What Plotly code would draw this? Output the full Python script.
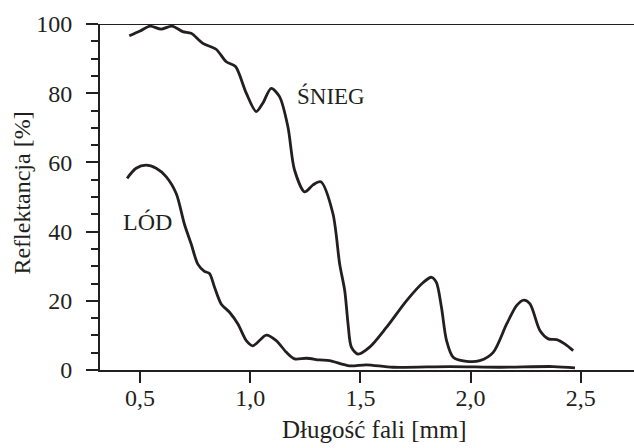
import plotly.graph_objects as go

# ---- data ----
snow_wl = [0.451, 0.50, 0.545, 0.595, 0.645, 0.694, 0.732, 0.785, 0.845, 0.891, 0.933, 0.982,
           1.027, 1.057, 1.095, 1.133, 1.171, 1.201, 1.247, 1.285, 1.32, 1.375, 1.406, 1.429,
           1.444, 1.459, 1.489, 1.542, 1.618, 1.709, 1.785, 1.823, 1.845, 1.868, 1.891, 1.921,
           1.982, 2.042, 2.103, 2.164, 2.209, 2.242, 2.27, 2.315, 2.353, 2.391, 2.429, 2.466]
snow_r = [96.6, 98.0, 99.4, 98.5, 99.4, 97.8, 97.3, 94.4, 92.7, 89.1, 87.7, 80.0,
          74.7, 77.1, 81.4, 79.0, 70.3, 57.8, 51.5, 53.5, 54.4, 45.3, 30.6, 22.9,
          13.3, 6.6, 4.6, 6.6, 12.3, 20.0, 25.3, 26.8, 25.3, 18.1, 8.5, 3.7,
          2.5, 2.7, 5.1, 13.3, 18.6, 20.2, 19.1, 11.4, 9.0, 8.8, 7.5, 5.6]

ice_wl = [0.441, 0.482, 0.527, 0.573, 0.618, 0.664, 0.701, 0.732, 0.762, 0.792, 0.815, 0.838,
          0.868, 0.906, 0.944, 0.982, 1.012, 1.073, 1.118, 1.164, 1.201, 1.255, 1.315, 1.36,
          1.451, 1.527, 1.648, 1.906, 2.133, 2.376, 2.474]
ice_r = [55.4, 58.3, 59.2, 58.3, 55.9, 51.0, 42.2, 36.4, 30.6, 28.5, 27.9, 23.9,
         19.1, 16.7, 13.3, 8.5, 7.0, 10.1, 8.5, 5.1, 3.2, 3.4, 2.9, 2.7,
         1.2, 1.5, 0.8, 1.0, 0.8, 1.0, 0.6]

x_tickvals = [0.5, 1.0, 1.5, 2.0, 2.5]
x_ticktext = ["0,5", "1,0", "1,5", "2,0", "2,5"]
y_tickvals = [0, 20, 40, 60, 80, 100]
y_ticktext = ["0", "20", "40", "60", "80", "100"]

label_snow = "ŚNIEG"
label_ice = "LÓD"
x_title = "Długość fali [mm]"
y_title = "Reflektancja [%]"

INK = "#231f20"
FONT = "Liberation Serif"

fig = go.Figure()
fig.add_trace(go.Scatter(x=snow_wl, y=snow_r, mode="lines",
                         line=dict(color=INK, width=2.8, shape="spline", smoothing=0.8),
                         showlegend=False, hoverinfo="skip"))
fig.add_trace(go.Scatter(x=ice_wl, y=ice_r, mode="lines",
                         line=dict(color=INK, width=2.8, shape="spline", smoothing=0.8),
                         showlegend=False, hoverinfo="skip"))

fig.add_annotation(x=1.201, y=79.2, text=label_snow, showarrow=False, xanchor="left",
                   yanchor="middle", font=dict(family=FONT, size=23, color=INK))
fig.add_annotation(x=0.412, y=42.8, text=label_ice, showarrow=False, xanchor="left",
                   yanchor="middle", font=dict(family=FONT, size=24, color=INK))

# axis titles
fig.add_annotation(xref="paper", yref="paper", x=0.514, y=-0.173, text=x_title,
                   showarrow=False, xanchor="center", yanchor="middle",
                   font=dict(family=FONT, size=25, color=INK))
fig.add_annotation(xref="paper", yref="paper", x=-0.146, y=0.51, text=y_title,
                   showarrow=False, xanchor="center", yanchor="middle", textangle=-90,
                   font=dict(family=FONT, size=24, color=INK))

# top line at 100
fig.add_shape(type="line", xref="paper", yref="y", x0=0, x1=1, y0=100, y1=100,
              line=dict(color=INK, width=2))
# y-axis line extension below zero
fig.add_shape(type="line", xref="x", yref="y", x0=0.318, x1=0.318, y0=0, y1=0,
              ysizemode="pixel", yanchor=0, line=dict(color=INK, width=2))

fig.update_layout(
    width=634, height=448,
    margin=dict(l=100, r=0, t=24, b=78),
    paper_bgcolor="white", plot_bgcolor="white",
    font=dict(family=FONT, size=24, color=INK),
    xaxis=dict(range=[0.318, 2.742], showgrid=False, zeroline=False,
               showline=True, linecolor=INK, linewidth=2,
               ticks="outside", ticklen=11, tickwidth=2, tickcolor=INK,
               tickvals=x_tickvals, ticktext=x_ticktext, ticklabelstandoff=-6,
               tickfont=dict(family=FONT, size=24, color=INK)),
    yaxis=dict(range=[0, 100], showgrid=False, zeroline=False,
               showline=True, linecolor=INK, linewidth=2,
               ticks="outside", ticklen=12, tickwidth=2, tickcolor=INK,
               tickvals=y_tickvals, ticktext=y_ticktext, ticklabelstandoff=9,
               tickfont=dict(family=FONT, size=24, color=INK),
               minor=dict(dtick=5, ticklen=7, tickwidth=2, tickcolor=INK, ticks="outside")),
)

fig.write_html("out.html", config={"displayModeBar": False},
               post_script="document.body.style.margin='0';document.body.style.overflow='hidden';")
